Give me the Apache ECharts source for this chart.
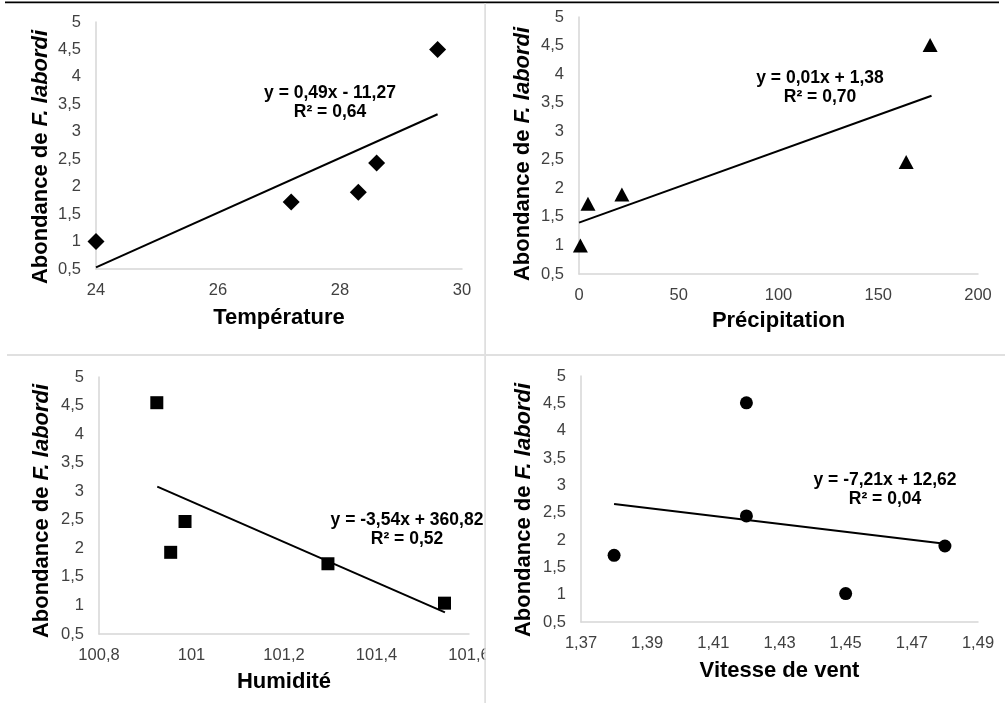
<!DOCTYPE html>
<html>
<head>
<meta charset="utf-8">
<script src="https://cdn.jsdelivr.net/npm/echarts@6/dist/echarts.min.js"></script>
<style>
  html, body { margin: 0; padding: 0; background: #fff; }
  #chart { width: 1005px; height: 703px; }
</style>
</head>
<body>
<div id="chart"></div>
<script>
// données
const tempX = [24, 27.2, 28.3, 28.6, 29.6];
const tempY = [1.0, 1.72, 1.9, 2.43, 4.5];
const precipX = [0.7, 4.5, 21.5, 164, 176];
const precipY = [1.0, 1.73, 1.89, 2.46, 4.51];
const humidX = [100.925, 100.955, 100.986, 101.295, 101.547];
const humidY = [4.55, 1.93, 2.47, 1.73, 1.04];
const ventX = [1.38, 1.42, 1.42, 1.45, 1.48];
const ventY = [1.72, 4.51, 2.44, 1.02, 1.89];

// courbes de tendance (extrémités)
const trendTemp = [[24, 0.53], [29.6, 3.32]];
const trendPrecip = [[0, 1.4], [176.7, 3.62]];
const trendHumid = [[100.926, 3.08], [101.548, 0.88]];
const trendVent = [[1.38, 2.66], [1.48, 1.93]];

const xTitles = ['Température', 'Précipitation', 'Humidité', 'Vitesse de vent'];
const equations = [
  'y = 0,49x - 11,27\nR² = 0,64',
  'y = 0,01x + 1,38\nR² = 0,70',
  'y = -3,54x + 360,82\nR² = 0,52',
  'y = -7,21x + 12,62\nR² = 0,04'
];

const fmt = v => String(Math.round(v * 1000) / 1000).replace('.', ',');
const pair = (xs, ys) => xs.map((x, i) => [x, ys[i]]);

const grids = [
  {left: 96, top: 22, width: 366, height: 247},
  {left: 579, top: 17, width: 399, height: 257},
  {left: 99, top: 377, width: 370, height: 257},
  {left: 581, top: 376, width: 397, height: 246}
];
const xRanges = [
  {min: 24, max: 30, interval: 2},
  {min: 0, max: 200, interval: 50},
  {min: 100.8, max: 101.6, interval: 0.2},
  {min: 1.37, max: 1.49, interval: 0.01}
];
const nameGaps = [38, 36, 37, 38];

const labelStyle = {color: '#404040', fontSize: 16.5, fontFamily: 'Liberation Sans, Arial, sans-serif'};
const axisLine = {show: true, lineStyle: {color: '#d6d6d6', width: 1.5}};

const xAxes = xRanges.map((r, i) => ({
  type: 'value', gridIndex: i, min: r.min, max: r.max, interval: r.interval,
  axisLine: axisLine, axisTick: {show: false}, splitLine: {show: false},
  axisLabel: Object.assign({
    margin: 13,
    formatter: i === 3 ? (v => Math.round(v * 100) % 2 === 1 ? fmt(v) : '') : fmt
  }, labelStyle),
  name: xTitles[i], nameLocation: 'middle', nameGap: nameGaps[i],
  nameTextStyle: {fontSize: 22, fontWeight: 'bold', color: '#000', fontFamily: 'Liberation Sans, Arial, sans-serif'}
}));

const yAxes = grids.map((g, i) => ({
  type: 'value', gridIndex: i, min: 0.5, max: 5, interval: 0.5,
  axisLine: axisLine, axisTick: {show: false}, splitLine: {show: false},
  axisLabel: Object.assign({margin: 15, formatter: fmt}, labelStyle)
}));

const symbols = [
  {symbol: 'diamond', size: 17},
  {symbol: 'triangle', size: [15, 14]},
  {symbol: 'rect', size: 13},
  {symbol: 'circle', size: 13}
];
const points = [pair(tempX, tempY), pair(precipX, precipY), pair(humidX, humidY), pair(ventX, ventY)];
const trends = [trendTemp, trendPrecip, trendHumid, trendVent];

const series = [];
points.forEach((pts, i) => {
  series.push({
    type: 'line', xAxisIndex: i, yAxisIndex: i, data: trends[i],
    showSymbol: false, symbol: 'none', silent: true,
    lineStyle: {color: '#000', width: 2}, z: 2
  });
  series.push({
    type: 'scatter', xAxisIndex: i, yAxisIndex: i, data: pts,
    symbol: symbols[i].symbol, symbolSize: symbols[i].size,
    itemStyle: {color: '#000', opacity: 1}, z: 3
  });
});

// titres des axes Y et équations
const yTitlePos = [[41, 157], [523, 154], [42, 511], [524, 510]];
const eqPos = [[330, 103], [820, 88], [407, 530], [885, 490]];
const graphics = [];
yTitlePos.forEach(p => {
  graphics.push({
    type: 'text', x: p[0], y: p[1], rotation: Math.PI / 2,
    style: {
      text: '{n|Abondance de }{i|F. labordi}',
      align: 'center', verticalAlign: 'middle',
      rich: {
        n: {fontSize: 22, fontWeight: 'bold', fill: '#000', fontFamily: 'Liberation Sans, Arial, sans-serif'},
        i: {fontSize: 22, fontWeight: 'bold', fontStyle: 'italic', fill: '#000', fontFamily: 'Liberation Sans, Arial, sans-serif'}
      }
    }
  });
});
eqPos.forEach((p, i) => {
  graphics.push({
    type: 'text', x: p[0], y: p[1],
    style: {
      text: equations[i], align: 'center', verticalAlign: 'middle',
      fontSize: 17.5, fontWeight: 'bold', lineHeight: 19, fill: '#000',
      fontFamily: 'Liberation Sans, Arial, sans-serif'
    }
  });
});
// cadre de la figure
graphics.push({type: 'rect', z: 100, shape: {x: 486, y: 645, width: 16, height: 24}, style: {fill: '#fff'}});
graphics.push({type: 'rect', z: 100, shape: {x: 5, y: 1.5, width: 994, height: 1.8}, style: {fill: '#000'}});
graphics.push({type: 'rect', z: 100, shape: {x: 484.3, y: 3, width: 1.6, height: 700}, style: {fill: '#dcdcdc'}});
graphics.push({type: 'rect', z: 100, shape: {x: 7, y: 354, width: 998, height: 2}, style: {fill: '#e0e0e0'}});

const chart = echarts.init(document.getElementById('chart'));
chart.setOption({
  animation: false,
  backgroundColor: '#fff',
  grid: grids.map(g => Object.assign({outerBoundsMode: 'none'}, g)),
  xAxis: xAxes,
  yAxis: yAxes,
  series: series,
  graphic: graphics
});
</script>
</body>
</html>
